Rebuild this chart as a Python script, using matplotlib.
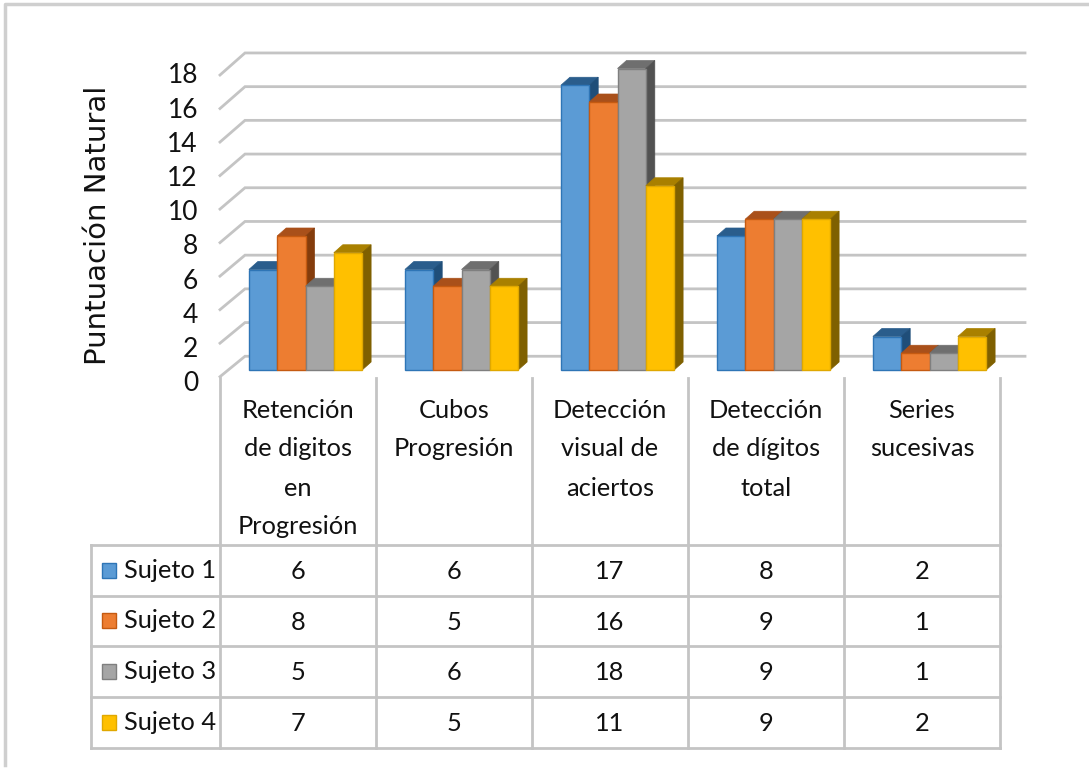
import matplotlib
matplotlib.use("Agg")
import matplotlib.pyplot as plt
from matplotlib.patches import Polygon, Rectangle

categorias = ["Retención\nde digitos\nen\nProgresión", "Cubos\nProgresión",
              "Detección\nvisual de\naciertos", "Detección\nde dígitos\ntotal", "Series\nsucesivas"]
sujetos = ["Sujeto 1", "Sujeto 2", "Sujeto 3", "Sujeto 4"]
sujeto1 = [6, 6, 17, 8, 2]
sujeto2 = [8, 5, 16, 9, 1]
sujeto3 = [5, 6, 18, 9, 1]
sujeto4 = [7, 5, 11, 9, 2]
series = [sujeto1, sujeto2, sujeto3, sujeto4]
yticks = list(range(0, 20, 2))

# front, edge, top, side
colores = [("#5b9bd5", "#2e75b6", "#2a5d8c", "#1f4e79"),
           ("#ed7d31", "#c55a11", "#a9501a", "#843c0c"),
           ("#a5a5a5", "#7f7f7f", "#6f6f6f", "#525252"),
           ("#ffc000", "#e0a800", "#a98000", "#7f6000")]

W, H = 1089, 769
plt.rcParams["font.family"] = ["Lato", "DejaVu Sans"]
fig = plt.figure(figsize=(W / 100, H / 100), dpi=100)
texto = "#111111"

# capa de fondo en pixeles para marco y tabla
bg = fig.add_axes([0, 0, 1, 1])
bg.set_xlim(0, W)
bg.set_ylim(H, 0)
bg.axis("off")
gris = "#c4c4c4"
bg.plot([5, 5, W], [H - 4, 4, 4], color="#cfcfcf", lw=2.5)

# eje principal: plano frontal de las barras
x0, x1 = 220, 1000
y_base, esc = 370, 16.75
ax = fig.add_axes([x0 / W, 1 - y_base / H, (x1 - x0) / W, 18 * esc / H])
ax.set_xlim(0, 5)
ax.set_ylim(0, 18)
ax.axis("off")
ax.patch.set_alpha(0)

dx = 9 / 156
dy = 8 / esc
for v in yticks:
    frente = v * 1.0006 - 0.40
    fondo = v * 1.006 + 0.82
    ax.plot([0, 25 / 156, 5 + 25 / 156], [frente, fondo, fondo], color=gris, lw=2,
            clip_on=False, zorder=1, solid_joinstyle="miter")
    ax.text(-22 / 156, v * 1.021 - 0.82, str(v), ha="right", va="center", fontsize=19,
            color=texto, clip_on=False)

ancho = 28.3 / 156
offset = 7.5 / 156
for s, vals in enumerate(series):
    cara, borde, tapa, lado = colores[s]
    for c, v in enumerate(vals):
        xl = c + 0.5 + offset + (s - 2) * ancho
        xr = xl + ancho
        z = 3 + s
        ax.add_patch(Polygon([(xl, v), (xr, v), (xr + dx, v + dy), (xl + dx, v + dy)],
                             facecolor=tapa, edgecolor=tapa, lw=0.5, zorder=z, clip_on=False))
        ax.add_patch(Polygon([(xr, 0), (xr + dx, dy), (xr + dx, v + dy), (xr, v)],
                             facecolor=lado, edgecolor=lado, lw=0.5, zorder=z, clip_on=False))
        ax.bar(xl, v, width=ancho, align="edge", color=cara, edgecolor=borde, lw=1,
               zorder=z + 0.5, clip_on=False)

ax.text(-122 / 156, 8.65, "Puntuación Natural", rotation=90, ha="center", va="center",
        fontsize=21, family="DejaVu Sans", color=texto, clip_on=False)

# tabla de datos
filas = [545, 596, 646, 697, 748]
columnas = [220 + 156 * i for i in range(6)]
for xc in columnas:
    bg.plot([xc, xc], [378, filas[-1]], color=gris, lw=2)
bg.plot([91, 91], [filas[0], filas[-1]], color=gris, lw=2)
for yf in filas:
    bg.plot([91, 1000], [yf, yf], color=gris, lw=2)

for c, nombre in enumerate(categorias):
    for n, linea in enumerate(nombre.split("\n")):
        bg.text(columnas[c] + 78, 410 + 39 * n, linea, ha="center", va="center", fontsize=18.3, color=texto)
for s, nombre in enumerate(sujetos):
    ym = (filas[s] + filas[s + 1]) / 2
    bg.add_patch(Rectangle((102, ym - 8), 14, 15, facecolor=colores[s][0], edgecolor=colores[s][1], lw=1))
    bg.text(124, ym, nombre, ha="left", va="center", fontsize=18.3, color=texto)
    for c, v in enumerate(series[s]):
        bg.text(columnas[c] + 78, ym + 1, str(v), ha="center", va="center", fontsize=18.3, color=texto)

fig.savefig("out.png", dpi=100)
